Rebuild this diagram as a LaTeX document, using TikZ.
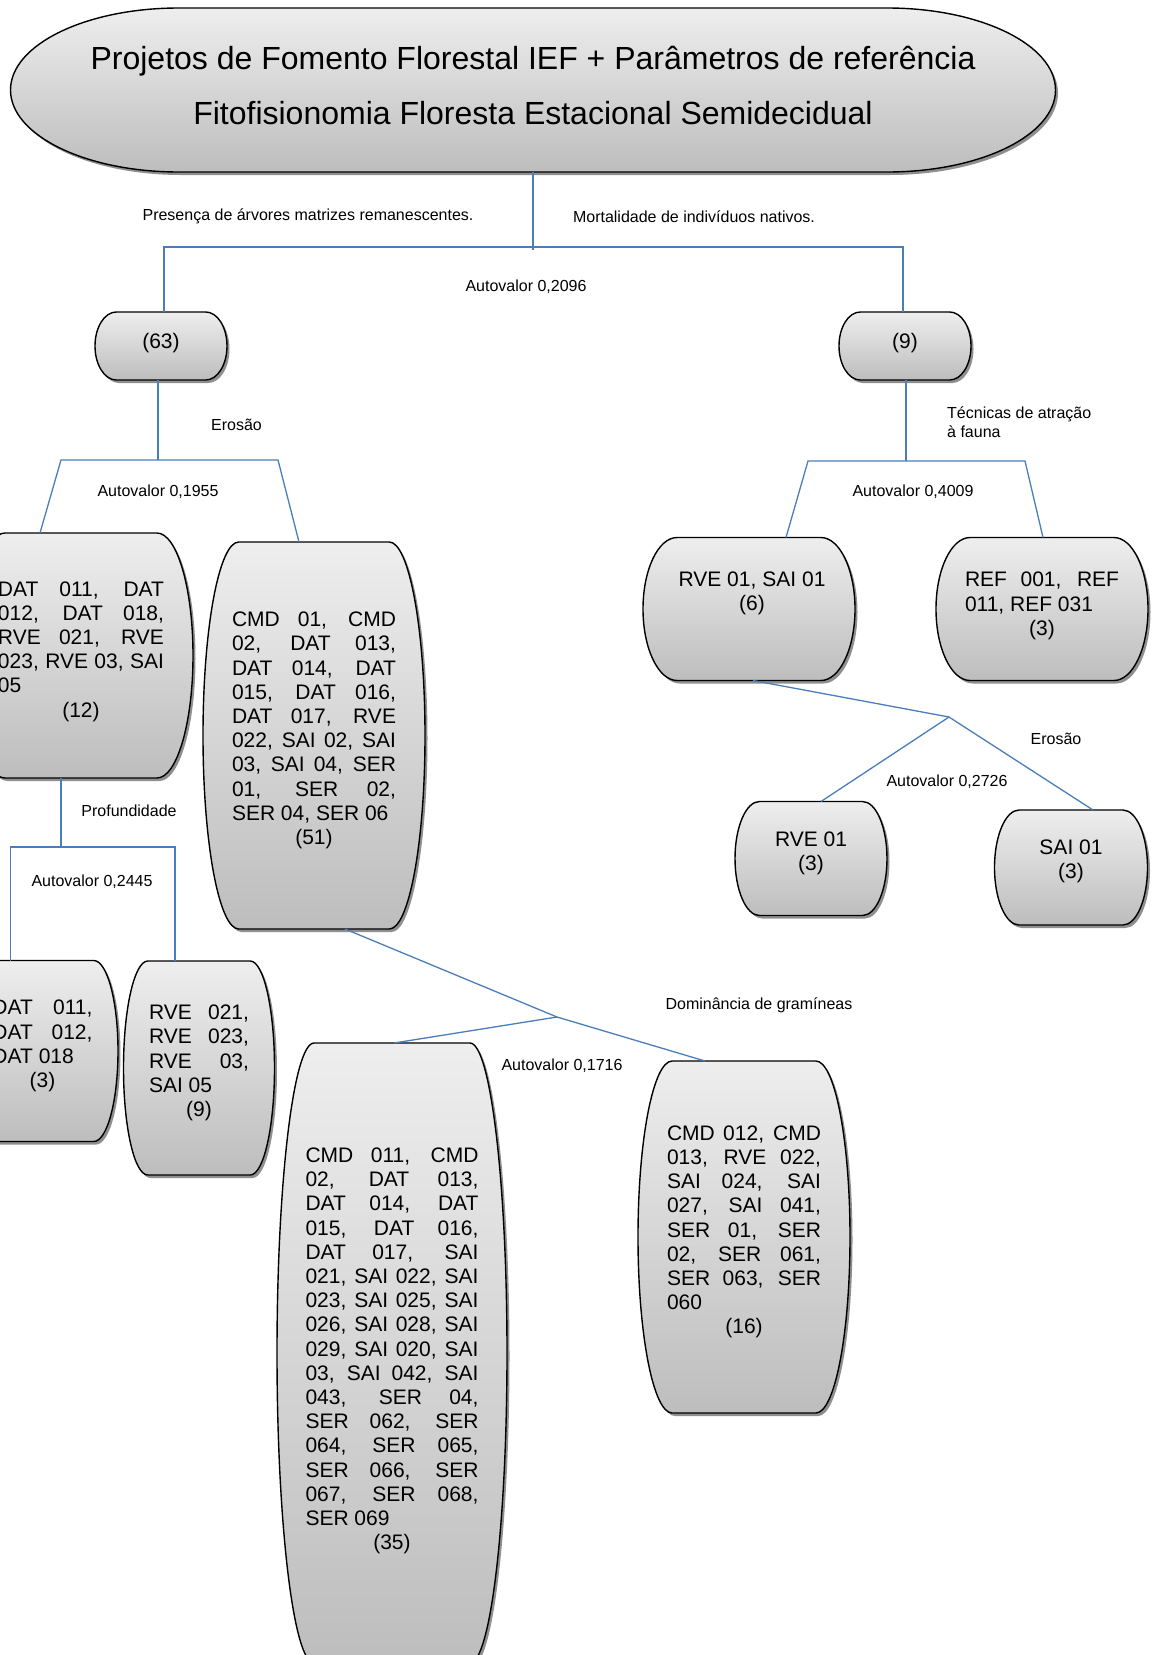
\documentclass[tikz,border=0pt]{standalone}
\usepackage{fontspec}
\setmainfont{Liberation Sans}

\definecolor{linkblue}{HTML}{4A7EBB}
\definecolor{boxtop}{HTML}{EEEEEE}
\definecolor{boxbot}{HTML}{BDBDBD}
\definecolor{shadowgray}{HTML}{8F8F8F}

\tikzset{
  link/.style={draw=linkblue, line width=1.3pt},
  boxarea/.style={inner sep=0pt, outer sep=0pt},
  boxskin/.style={top color=boxtop, bottom color=boxbot, draw=black, line width=1.4pt},
  boxtxt/.style={font=\fontsize{21}{24.2}\selectfont, inner sep=0pt},
  lbl/.style={font=\fontsize{16}{19}\selectfont, inner sep=0pt},
}

% terminator box: name, centre x, centre y, width, height
\newcommand{\termbox}[5]{%
  \pgfmathsetmacro\tbrx{0.161*#4}%
  \pgfmathsetmacro\tbry{#5/2}%
  \pgfmathsetmacro\tbxl{#2-#4/2+\tbrx}%
  \pgfmathsetmacro\tbxr{#2+#4/2-\tbrx}%
  \pgfmathsetmacro\tbyt{#3-#5/2}%
  \pgfmathsetmacro\tbyb{#3+#5/2}%
  \fill[shadowgray, xshift=2.5pt, yshift=-3pt] (\tbxl,\tbyt) -- (\tbxr,\tbyt)
    arc[start angle=90, end angle=-90, x radius=\tbrx pt, y radius=\tbry pt]
    -- (\tbxl,\tbyb)
    arc[start angle=270, end angle=90, x radius=\tbrx pt, y radius=\tbry pt] -- cycle;
  \path[boxskin] (\tbxl,\tbyt) -- (\tbxr,\tbyt)
    arc[start angle=90, end angle=-90, x radius=\tbrx pt, y radius=\tbry pt]
    -- (\tbxl,\tbyb)
    arc[start angle=270, end angle=90, x radius=\tbrx pt, y radius=\tbry pt] -- cycle;
  \node[boxarea, minimum width=#4pt, minimum height=#5pt] (#1) at (#2,#3) {};%
}

% text lines inside the boxes
\newcommand{\txtblock}[2]{\vbox{\hsize=#1pt #2}}
\newcommand{\jsline}[1]{\hbox to\hsize{\spaceskip=0.278em plus 1fil\relax #1}}
\newcommand{\lfline}[1]{\hbox to\hsize{#1\hfil}}
\newcommand{\cnline}[1]{\hbox to\hsize{\hfil #1\hfil}}

\begin{document}
\begin{tikzpicture}[x=1pt, y=-1pt]

    \path[use as bounding box, fill=white] (0,0) rectangle (1152,1655);

    % Title
    \termbox{title}{533}{90}{1045}{164}
    \node[font=\fontsize{32}{55}\selectfont, align=center, inner sep=0pt] (titletxt) at ([yshift=4.5pt]title.center)
        {Projetos de Fomento Florestal IEF + Parâmetros de referência\\Fitofisionomia Floresta Estacional Semidecidual};

    % First level (63) and (9)
    \termbox{n63}{161}{346}{132}{68}
    \node[boxtxt] (n63t) at ([yshift=3pt]n63.center) {(63)};
    \termbox{n9}{905}{346}{132}{68}
    \node[boxtxt] (n9t) at ([yshift=3pt]n9.center) {(9)};

    % Left branch (12) and (51)
    \termbox{l12}{81}{655.5}{224}{245}
    \node[boxtxt] (l12t) at ([yshift=4pt]l12.center) {\txtblock{166}{%
        \jsline{DAT 011, DAT}
        \jsline{012, DAT 018,}
        \jsline{RVE 021, RVE}
        \jsline{023, RVE 03, SAI}
        \lfline{05}
        \cnline{(12)}}};

    \termbox{c51}{314}{735.5}{222}{387}
    \node[boxtxt] (c51t) at ([yshift=5pt]c51.center) {\txtblock{164}{%
        \jsline{CMD 01, CMD}
        \jsline{02, DAT 013,}
        \jsline{DAT 014, DAT}
        \jsline{015, DAT 016,}
        \jsline{DAT 017, RVE}
        \jsline{022, SAI 02, SAI}
        \jsline{03, SAI 04, SER}
        \jsline{01, SER 02,}
        \lfline{SER 04, SER 06}
        \cnline{(51)}}};

    % Below (12): (3) and (9)
    \termbox{l3}{42.5}{1051}{151}{181}
    \node[boxtxt] (l3t) at ([yshift=5pt]l3.center) {\txtblock{100}{%
        \jsline{DAT 011,}
        \jsline{DAT 012,}
        \lfline{DAT 018}
        \cnline{(3)}}};

    \termbox{r9}{199}{1068}{151}{214}
    \node[boxtxt] (r9t) at ([yshift=5pt]r9.center) {\txtblock{100}{%
        \jsline{RVE 021,}
        \jsline{RVE 023,}
        \jsline{RVE 03,}
        \lfline{SAI 05}
        \cnline{(9)}}};

    % Below (51): (35) and (16)
    \termbox{c35}{392}{1353}{230}{620}
    \node[boxtxt] (c35t) at ([yshift=2pt]c35.center) {\txtblock{173}{%
        \jsline{CMD 011, CMD}
        \jsline{02, DAT 013,}
        \jsline{DAT 014, DAT}
        \jsline{015, DAT 016,}
        \jsline{DAT 017, SAI}
        \jsline{021, SAI 022, SAI}
        \jsline{023, SAI 025, SAI}
        \jsline{026, SAI 028, SAI}
        \jsline{029, SAI 020, SAI}
        \jsline{03, SAI 042, SAI}
        \jsline{043, SER 04,}
        \jsline{SER 062, SER}
        \jsline{064, SER 065,}
        \jsline{SER 066, SER}
        \jsline{067, SER 068,}
        \lfline{SER 069}
        \cnline{(35)}}};

    \termbox{c16}{744}{1237}{212}{352}
    \node[boxtxt] (c16t) at ([yshift=5pt]c16.center) {\txtblock{154}{%
        \jsline{CMD 012, CMD}
        \jsline{013, RVE 022,}
        \jsline{SAI 024, SAI}
        \jsline{027, SAI 041,}
        \jsline{SER 01, SER}
        \jsline{02, SER 061,}
        \jsline{SER 063, SER}
        \lfline{060}
        \cnline{(16)}}};

    % Right branch (6) and (3)
    \termbox{rs6}{749}{609}{212}{143}
    \node[boxtxt] (rs6t) at ([xshift=3pt, yshift=16pt]rs6.center) {\txtblock{147}{%
        \jsline{RVE 01, SAI 01}
        \cnline{(6)}}};

    \termbox{ref3}{1042}{609}{212}{143}
    \node[boxtxt] (ref3t) at ([yshift=3pt]ref3.center) {\txtblock{154}{%
        \jsline{REF 001, REF}
        \lfline{011, REF 031}
        \cnline{(3)}}};

    % Below (6): RVE 01 and SAI 01
    \termbox{rve1}{811}{858.5}{152}{114}
    \node[boxtxt] (rve1t) at ([yshift=5pt]rve1.center) {\txtblock{90}{%
        \cnline{RVE 01}
        \cnline{(3)}}};

    \termbox{sai1}{1071}{867.5}{153}{115}
    \node[boxtxt] (sai1t) at ([yshift=6pt]sai1.center) {\txtblock{90}{%
        \cnline{SAI 01}
        \cnline{(3)}}};

    % Connectors, top split
    \coordinate (j0) at (533,247);
    \draw[link] (title.south) -- ([yshift=-3pt]j0);
    \draw[link] ([xshift=3pt]n63.north) |- (j0) -| ([xshift=-2pt]n9.north);

    % Connectors under (63)
    \coordinate (j1) at (158,460);
    \coordinate (j1a) at (61,460);
    \coordinate (j1b) at (278,460);
    \draw[link] ([xshift=-3pt]n63.south) -- (j1);
    \draw[link] ([xshift=-41pt]l12.north) -- (j1a) -- (j1b) -- ([xshift=-15pt]c51.north);

    % Connectors under (12)
    \coordinate (j2) at (61,847);
    \draw[link] ([xshift=-20pt]l12.south) -- (j2);
    \draw[link] ([xshift=-32pt]l3.north) |- (j2) -| ([xshift=-24pt]r9.north);

    % Connectors under (51)
    \coordinate (j3) at (557,1017);
    \draw[link] ([xshift=31pt]c51.south) -- (j3) -- ([xshift=-39pt]c16.north);
    \draw[link] (j3) -- ([xshift=2pt]c35.north);

    % Connectors under (9)
    \coordinate (j4) at (906,461);
    \coordinate (j4a) at (808,461);
    \coordinate (j4b) at (1025,461);
    \draw[link] ([xshift=1pt]n9.south) -- (j4);
    \draw[link] ([xshift=37pt]rs6.north) -- (j4a) -- (j4b) -- ([xshift=1pt]ref3.north);

    % Connectors under (6)
    \coordinate (j5) at (949,717);
    \draw[link] ([xshift=4pt]rs6.south) -- (j5) -- ([xshift=22pt]sai1.north);
    \draw[link] (j5) -- ([xshift=10pt]rve1.north);

    % Labels
    \node[lbl] (pres) at (308,216) {Presença de árvores matrizes remanescentes.};
    \node[lbl] (mort) at (694,217) {Mortalidade de indivíduos nativos.};
    \node[lbl] (av1) at (526,287) {Autovalor 0,2096};
    \node[lbl] (eros1) at (236.5,425) {Erosão};
    \node[lbl] (av2) at (158,492) {Autovalor 0,1955};
    \node[lbl] (prof) at (129,811) {Profundidade};
    \node[lbl] (av3) at (92,882) {Autovalor 0,2445};
    \node[lbl] (domi) at (759,1005) {Dominância de gramíneas};
    \node[lbl] (av4) at (562,1066) {Autovalor 0,1716};
    \node[lbl, align=left, anchor=west] (tecn) at (947,422) {Técnicas de atração\\à fauna};
    \node[lbl] (av5) at (913,492) {Autovalor 0,4009};
    \node[lbl] (eros2) at (1056,739) {Erosão};
    \node[lbl] (av6) at (947,782) {Autovalor 0,2726};

\end{tikzpicture}
\end{document}
